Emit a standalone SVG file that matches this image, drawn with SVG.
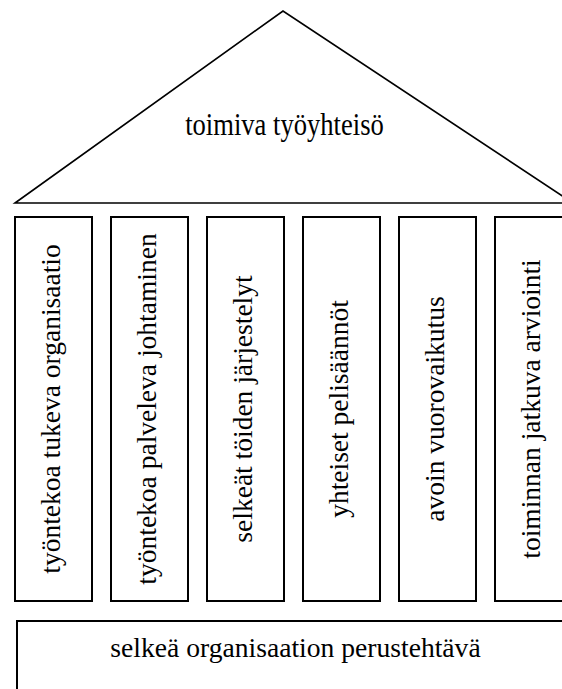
<svg xmlns="http://www.w3.org/2000/svg" width="562" height="689" viewBox="0 0 562 689">
<style>
.shape{fill:#fff;stroke:#000;stroke-width:2}
.roof{fill:#fff;stroke:#000;stroke-width:1.6}
.lbl{font-family:"Liberation Serif","Times New Roman",serif;fill:#000;text-anchor:middle}
.v{font-size:27.5px}
</style>
<rect width="562" height="689" fill="#fff"/>
<g id="roof">
<polygon class="roof" points="15,203 283,11 573,203"/>
<text class="lbl" font-size="26.6" transform="translate(284.5,135) scale(1,1.15)" x="0" y="0">toimiva työyhteisö</text>
</g>
<g id="pillar1">
<rect class="shape" x="15" y="217" width="77" height="384"/>
<text class="lbl v" transform="translate(53.5,409) rotate(-90)" x="0" y="6">työntekoa tukeva organisaatio</text>
</g>
<g id="pillar2">
<rect class="shape" x="111" y="217" width="77" height="384"/>
<text class="lbl v" transform="translate(149.5,409) rotate(-90)" x="0" y="6">työntekoa palveleva johtaminen</text>
</g>
<g id="pillar3">
<rect class="shape" x="207" y="217" width="77" height="384"/>
<text class="lbl v" transform="translate(245.5,409) rotate(-90)" x="0" y="6">selkeät töiden järjestelyt</text>
</g>
<g id="pillar4">
<rect class="shape" x="303" y="217" width="77" height="384"/>
<text class="lbl v" transform="translate(341.5,409) rotate(-90)" x="0" y="6">yhteiset pelisäännöt</text>
</g>
<g id="pillar5">
<rect class="shape" x="399" y="217" width="77" height="384"/>
<text class="lbl v" transform="translate(437.5,409) rotate(-90)" x="0" y="6">avoin vuorovaikutus</text>
</g>
<g id="pillar6">
<rect class="shape" x="495" y="217" width="77" height="384"/>
<text class="lbl v" transform="translate(534,409) rotate(-90)" x="0" y="6">toiminnan jatkuva arviointi</text>
</g>
<g id="foundation">
<rect class="shape" x="17" y="621" width="600" height="120"/>
<text class="lbl" font-size="27.6" x="295.5" y="657">selkeä organisaation perustehtävä</text>
</g>
<g id="connectors"></g>
</svg>
